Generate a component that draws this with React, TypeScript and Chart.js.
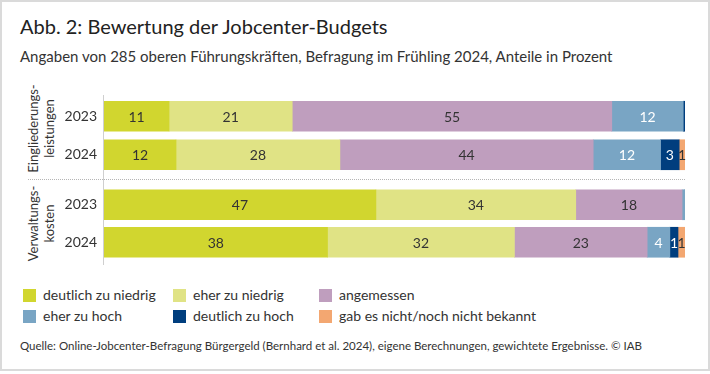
import React, { useEffect, useRef } from 'react';
import { Chart, registerables } from 'chart.js';

Chart.register(...registerables);

// ---- data ----
const responseLabels = [
  'deutlich zu niedrig',
  'eher zu niedrig',
  'angemessen',
  'eher zu hoch',
  'deutlich zu hoch',
  'gab es nicht/noch nicht bekannt',
];
const responseColors = ['#d1d62f', '#e0e385', '#bf9ebe', '#79a5c4', '#003e7e', '#f3a771'];
const valueTextColors = ['#333333', '#333333', '#333333', '#ffffff', '#ffffff', '#333333'];

const yearsEingliederung = ['2023', '2024'];
const yearsVerwaltung = ['2023', '2024'];

// Eingliederungsleistungen (2023, 2024), shares in percent
const deutlichZuNiedrigEGL = [11.2, 12.4];
const eherZuNiedrigEGL = [21.2, 28.2];
const angemessenEGL = [55.0, 43.6];
const eherZuHochEGL = [12.3, 11.6];
const deutlichZuHochEGL = [0.3, 3.2];
const gabEsNichtEGL = [0, 1.0];

// Verwaltungskosten (2023, 2024)
const deutlichZuNiedrigVK = [46.8, 38.4];
const eherZuNiedrigVK = [34.4, 32.1];
const angemessenVK = [18.3, 22.8];
const eherZuHochVK = [0.5, 3.9];
const deutlichZuHochVK = [0, 1.4];
const gabEsNichtVK = [0, 1.2];

const seriesEGL = [deutlichZuNiedrigEGL, eherZuNiedrigEGL, angemessenEGL, eherZuHochEGL, deutlichZuHochEGL, gabEsNichtEGL];
const seriesVK = [deutlichZuNiedrigVK, eherZuNiedrigVK, angemessenVK, eherZuHochVK, deutlichZuHochVK, gabEsNichtVK];

const FONT = 'Lato, "Noto Sans", sans-serif';
const TEXT = '#333333';

const barLabelPlugin = {
  id: 'barLabels',
  afterDatasetsDraw(chart: any) {
    const ctx = chart.ctx;
    ctx.save();
    ctx.font = `14px ${FONT}`;
    ctx.textAlign = 'center';
    ctx.textBaseline = 'middle';
    chart.data.datasets.forEach((ds: any, di: number) => {
      const meta = chart.getDatasetMeta(di);
      meta.data.forEach((el: any, i: number) => {
        const raw = ds.rawValues[i];
        if (raw < 1) return;
        const p = el.getProps(['x', 'base', 'y'], true);
        ctx.fillStyle = valueTextColors[di];
        ctx.fillText(String(Math.round(raw)), (p.x + p.base) / 2, p.y + 1);
      });
    });
    ctx.restore();
  },
};

function BarGroup({ top, height, categories, series }: { top: number; height: number; categories: string[]; series: number[][] }) {
  const ref = useRef<HTMLCanvasElement | null>(null);
  useEffect(() => {
    if (!ref.current) return;
    const sums = categories.map((_, i) => series.reduce((a, s) => a + s[i], 0));
    const chart = new Chart(ref.current, {
      type: 'bar',
      data: {
        labels: categories,
        datasets: series.map((s, di) => ({
          label: responseLabels[di],
          data: s.map((v, i) => (v / sums[i]) * 100),
          rawValues: s,
          backgroundColor: responseColors[di],
          borderWidth: 0,
          barThickness: 30,
        })) as any,
      },
      options: {
        indexAxis: 'y',
        animation: false,
        responsive: true,
        maintainAspectRatio: false,
        devicePixelRatio: 1,
        layout: { padding: { left: 0, right: 15, top: 0, bottom: 0 } },
        plugins: { legend: { display: false }, tooltip: { enabled: false }, title: { display: false } },
        scales: {
          x: { stacked: true, min: 0, max: 100, display: false },
          y: {
            stacked: true,
            grid: { display: false, drawTicks: false },
            border: { display: false },
            ticks: { padding: 7, color: TEXT, font: { family: FONT, size: 14 } },
            afterFit: (s: any) => {
              s.width = 104;
              s.paddingTop = 0;
              s.paddingBottom = 0;
            },
          },
        },
      } as any,
      plugins: [barLabelPlugin],
    });
    return () => chart.destroy();
  }, []);
  return (
    <div style={{ position: 'absolute', left: 0, top, width: 700, height }}>
      <canvas ref={ref} />
    </div>
  );
}

function GroupLabel({ cx, cy, lines }: { cx: number; cy: number; lines: string[] }) {
  const w = 130;
  const h = 31;
  return (
    <div
      style={{
        position: 'absolute',
        left: cx - w / 2,
        top: cy - h / 2,
        width: w,
        height: h,
        lineHeight: '15.5px',
        fontSize: 13,
        textAlign: 'center',
        color: TEXT,
        transform: 'rotate(-90deg)',
        transformOrigin: '50% 50%',
        whiteSpace: 'nowrap',
      }}
    >
      {lines.map((l) => (
        <div key={l}>{l}</div>
      ))}
    </div>
  );
}

export default function App() {
  const legendCols = [23, 173, 319];
  const legendRows = [289, 309.5];
  return (
    <div
      style={{
        position: 'absolute',
        left: 0,
        top: 0,
        width: 710,
        height: 374,
        background: '#fff',
        fontFamily: FONT,
        color: TEXT,
        overflow: 'hidden',
      }}
    >
      <div
        style={{
          position: 'absolute',
          left: 0,
          top: 0,
          width: 706,
          height: 367,
          border: '2px solid #dadada',
        }}
      />
      <div style={{ position: 'absolute', left: 20, top: 14, fontSize: 20, lineHeight: '24px', color: '#222', whiteSpace: 'nowrap' }}>
        Abb. 2: Bewertung der Jobcenter-Budgets
      </div>
      <div style={{ position: 'absolute', left: 20, top: 47, fontSize: 15, lineHeight: '18px', whiteSpace: 'nowrap' }}>
        Angaben von 285 oberen Führungskräften, Befragung im Frühling 2024, Anteile in Prozent
      </div>

      <GroupLabel cx={40.5} cy={128} lines={['Eingliederungs-', 'leistungen']} />
      <GroupLabel cx={40.5} cy={223} lines={['Verwaltungs-', 'kosten']} />

      <div style={{ position: 'absolute', left: 28, top: 179, width: 657, borderTop: '1px dotted #b5b5b5' }} />
      <div style={{ position: 'absolute', left: 103, top: 95, width: 1, height: 170, background: '#cfcfcf' }} />

      <BarGroup top={97} height={77} categories={yearsEingliederung} series={seriesEGL} />
      <BarGroup top={186} height={75} categories={yearsVerwaltung} series={seriesVK} />

      {responseLabels.map((label, i) => {
        const col = i % 3;
        const row = Math.floor(i / 3);
        return (
          <div key={label}>
            <div
              style={{
                position: 'absolute',
                left: legendCols[col],
                top: legendRows[row],
                width: 13,
                height: 13,
                background: responseColors[i],
              }}
            />
            <div
              style={{
                position: 'absolute',
                left: legendCols[col] + 20,
                top: legendRows[row] - 4,
                fontSize: 14,
                lineHeight: '20px',
                whiteSpace: 'nowrap',
              }}
            >
              {label}
            </div>
          </div>
        );
      })}

      <div style={{ position: 'absolute', left: 20, top: 338, fontSize: 11.5, lineHeight: '15px', whiteSpace: 'nowrap' }}>
        Quelle: Online-Jobcenter-Befragung Bürgergeld (Bernhard et al. 2024), eigene Berechnungen, gewichtete Ergebnisse. © IAB
      </div>
    </div>
  );
}
